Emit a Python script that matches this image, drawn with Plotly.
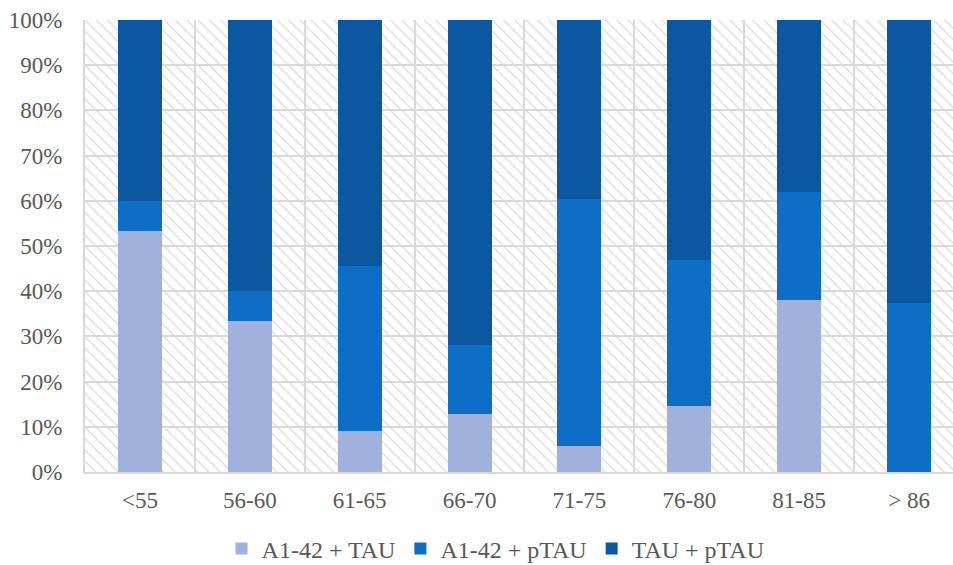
import plotly.graph_objects as go

categories = ["<55", "56-60", "61-65", "66-70", "71-75", "76-80", "81-85", "> 86"]
a142_tau = [53.3, 33.3, 9.1, 12.8, 5.7, 14.6, 38.1, 0.0]
a142_ptau = [6.7, 6.7, 36.4, 15.4, 54.7, 32.3, 23.8, 37.5]
tau_ptau = [40.0, 60.0, 54.5, 71.8, 39.6, 53.1, 38.1, 62.5]
series_names = ["A1-42 + TAU", "A1-42 + pTAU", "TAU + pTAU"]
y_ticks = list(range(0, 101, 10))
y_tick_labels = [f"{v}%" for v in y_ticks]

colors = ["#A0B2DB", "#0E6EC5", "#0B57A0"]
FONT = "'Liberation Serif', 'Times New Roman', serif"
TXT = "#595959"
grid = "#D9D9D9"

fig = go.Figure()

# hatched plot background on the base (hidden) axes
fig.add_trace(go.Bar(
    x=[0.5], y=[1], width=[1], xaxis="x", yaxis="y",
    marker=dict(color="rgba(0,0,0,0)", line=dict(width=0),
                pattern=dict(shape="\\", fgcolor="#DADADA", bgcolor="rgba(0,0,0,0)",
                             size=8, solidity=0.16)),
    showlegend=False, hoverinfo="skip",
))

for name, vals, c in zip(series_names, [a142_tau, a142_ptau, tau_ptau], colors):
    fig.add_trace(go.Bar(
        x=categories, y=vals, name=name, xaxis="x2", yaxis="y2",
        marker=dict(color=c, line=dict(width=0)),
    ))

fig.update_layout(
    template="none",
    width=953, height=565, autosize=False,
    margin=dict(l=85, r=0, t=20, b=93, autoexpand=False),
    paper_bgcolor="white", plot_bgcolor="white",
    barmode="stack", bargap=0.6, hovermode=False,
    font=dict(family=FONT, color=TXT, size=23),
    xaxis=dict(range=[0, 1], visible=False, showgrid=False, zeroline=False),
    yaxis=dict(range=[0, 1], visible=False, showgrid=False, zeroline=False),
    xaxis2=dict(overlaying="x", side="bottom", type="category",
                categoryorder="array", categoryarray=categories,
                range=[-0.5, 7.4], tickson="boundaries", ticks="",
                showgrid=True, gridcolor=grid, gridwidth=2,
                showline=True, linecolor=grid, linewidth=2, automargin=False,
                tickfont=dict(family=FONT, size=23, color=TXT), ticklabelstandoff=6),
    yaxis2=dict(overlaying="y", side="left", range=[0, 100],
                tickmode="array", tickvals=y_ticks, ticktext=y_tick_labels, ticks="",
                showgrid=True, gridcolor=grid, gridwidth=2, zeroline=False,
                showline=True, linecolor=grid, linewidth=2, automargin=False,
                tickfont=dict(family=FONT, size=23, color=TXT), ticklabelstandoff=16),
    legend=dict(orientation="h", x=0.473, xanchor="center", y=-0.17, yanchor="middle",
                traceorder="normal", font=dict(family=FONT, size=24, color=TXT),
                itemwidth=30, bgcolor="rgba(0,0,0,0)"),
)

fig.write_html(
    "out.html",
    config={"displayModeBar": False, "staticPlot": True},
    post_script="document.body.style.margin='0';document.body.style.overflow='hidden';",
)
